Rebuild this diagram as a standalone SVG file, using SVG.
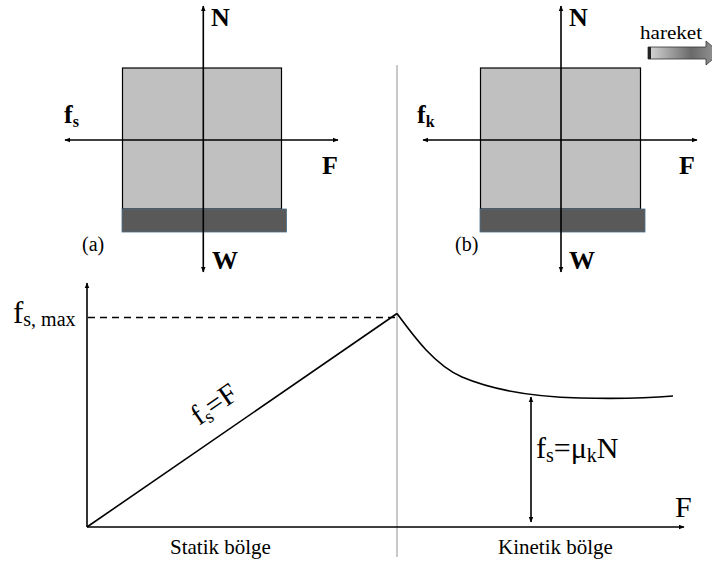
<svg xmlns="http://www.w3.org/2000/svg" width="712" height="567" viewBox="0 0 712 567">
<style>
text{font-family:"Liberation Serif","Times New Roman","DejaVu Serif",serif;fill:#000}
.b{font-weight:bold}
.ln{stroke:#000;stroke-width:1.6;fill:none}
.box{fill:#c0c0c0;stroke:#000;stroke-width:1.2}
.bar{fill:#595959;stroke:#4a6f8a;stroke-width:0.8}
</style>
<defs>
<marker id="ah" viewBox="0 0 10 10" refX="9" refY="5" markerWidth="6" markerHeight="6" orient="auto-start-reverse" markerUnits="userSpaceOnUse">
<path d="M0,1 L10,5 L0,9 Z" fill="#000"/>
</marker>
<linearGradient id="g" x1="0" x2="1" y1="0" y2="0">
<stop offset="0" stop-color="#d8d8d8"/>
<stop offset="0.6" stop-color="#6a6a6a"/>
<stop offset="1" stop-color="#9a9a9a"/>
</linearGradient>
</defs>

<g id="blockA">
<rect class="box" x="122.5" y="68" width="159" height="141"/>
<rect class="bar" x="122" y="209" width="164.5" height="23"/>
<text x="82" y="251" font-size="20">(a)</text>
</g>
<g id="blockB">
<rect class="box" x="480.5" y="68" width="160" height="141"/>
<rect class="bar" x="480" y="209" width="165" height="23"/>
<text x="455" y="251" font-size="20">(b)</text>
</g>

<g id="hareket">
<text x="640" y="39" font-size="19" textLength="62" lengthAdjust="spacingAndGlyphs">hareket</text>
<path d="M648,47 H706 V41 L720,53 L706,65 V59 H648 Z" fill="url(#g)" stroke="#333" stroke-width="0.8"/>
<rect x="648" y="47" width="3" height="12" fill="#222"/>
</g>

<g id="connectors">
<line class="ln" x1="203.3" y1="272" x2="203.3" y2="6" marker-start="url(#ah)" marker-end="url(#ah)"/>
<line class="ln" x1="65" y1="140" x2="338" y2="140" marker-start="url(#ah)" marker-end="url(#ah)"/>
<line class="ln" x1="561" y1="272" x2="561" y2="6" marker-start="url(#ah)" marker-end="url(#ah)"/>
<line class="ln" x1="423" y1="140" x2="697" y2="140" marker-start="url(#ah)" marker-end="url(#ah)"/>
</g>

<g id="labels">
<text class="b" x="211" y="26" font-size="26">N</text>
<text class="b" x="569" y="26" font-size="26">N</text>
<text class="b" x="212" y="269" font-size="26">W</text>
<text class="b" x="569" y="269" font-size="26">W</text>
<text class="b" x="322" y="174" font-size="26">F</text>
<text class="b" x="679" y="174" font-size="26">F</text>
<text class="b" x="64" y="123" font-size="26">f<tspan font-size="16" dy="4">s</tspan></text>
<text class="b" x="417" y="123" font-size="26">f<tspan font-size="16" dy="4">k</tspan></text>
</g>

<g id="graph">
<line x1="397" y1="65" x2="397" y2="557" stroke="#777" stroke-width="0.8"/>
<line class="ln" x1="87" y1="527" x2="87" y2="283" marker-end="url(#ah)"/>
<line class="ln" x1="87" y1="527" x2="684" y2="527" marker-end="url(#ah)"/>
<line x1="88" y1="317.5" x2="395" y2="317.5" stroke="#000" stroke-width="1.3" stroke-dasharray="7,5"/>
<polyline class="ln" points="87,527 397,313.5"/>
<path class="ln" d="M397,313.5 C415,338 435,365 462,377 C495,391 540,397 580,398 C620,399 650,398 673,396"/>
<line class="ln" x1="531" y1="397" x2="531" y2="522" marker-start="url(#ah)" marker-end="url(#ah)"/>
<text x="13" y="323" font-size="31">f<tspan font-size="20" dy="3">s, max</tspan></text>
<text x="0" y="0" font-size="29" transform="translate(199,426) rotate(-34.6)">f<tspan font-size="19" dy="4">s</tspan><tspan dy="-4">=F</tspan></text>
<text x="536" y="458" font-size="30">f<tspan font-size="20" dy="4">s</tspan><tspan dy="-4">=μ</tspan><tspan font-size="20" dy="4">k</tspan><tspan dy="-4">N</tspan></text>
<text x="675" y="517" font-size="30">F</text>
<text x="170" y="554" font-size="21">Statik bölge</text>
<text x="498" y="554" font-size="21">Kinetik bölge</text>
</g>
</svg>
